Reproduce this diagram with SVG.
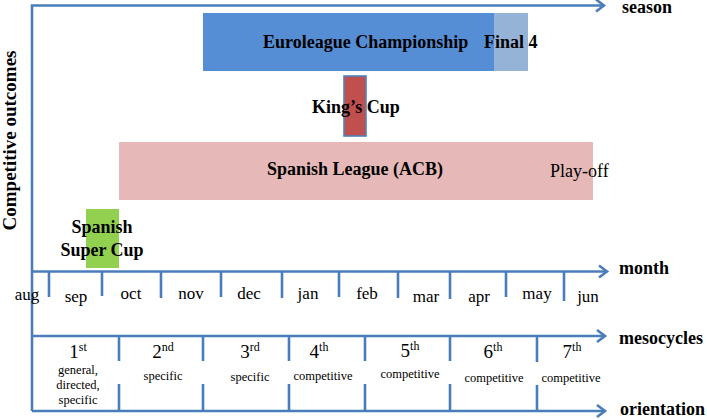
<svg xmlns="http://www.w3.org/2000/svg" width="707" height="420" viewBox="0 0 707 420">
<style>
.ax{stroke:#4A7EBB;stroke-width:2.6;fill:none}
.tk{stroke:#4A7EBB;stroke-width:2.6;fill:none}
.b{font-family:'Liberation Serif','Times New Roman',Times,'DejaVu Serif',serif;font-weight:bold;fill:#000}
.r{font-family:'Liberation Serif','Times New Roman',Times,'DejaVu Serif',serif;fill:#000}
.m{font-size:17px;text-anchor:middle}
.o{font-size:19px;text-anchor:middle}
.s{font-size:12.5px;text-anchor:middle}
.sup{font-size:12px}
.al{font-size:18px}
</style>
<defs>
<marker id="ah" markerUnits="userSpaceOnUse" markerWidth="14" markerHeight="16" refX="11" refY="8" orient="auto">
<path d="M3,2 L11,8 L3,14" fill="none" stroke="#4A7EBB" stroke-width="2.6"/>
</marker>
</defs>
<rect width="707" height="420" fill="#fff"/>

<g id="competitions">
<g id="euroleague">
<rect x="203" y="13" width="291" height="58" fill="#558ED5"/>
<rect x="494" y="13" width="34" height="58" fill="#95B3D7"/>
<text class="b" x="263" y="48" font-size="18">Euroleague Championship</text>
<text class="b" x="484" y="48" font-size="18">Final 4</text>
</g>
<g id="kings-cup">
<rect x="344" y="76" width="22" height="60" fill="#C0504D" stroke="#4F81BD" stroke-width="1.6"/>
<text class="b" x="312" y="113" font-size="18">King’s Cup</text>
</g>
<g id="spanish-league">
<rect x="119" y="142" width="474" height="58" fill="#E6B9B8"/>
<text class="b" x="267" y="175" font-size="18">Spanish League (ACB)</text>
<text class="r" x="550" y="177" font-size="18">Play-off</text>
</g>
<g id="super-cup">
<rect x="86" y="209" width="33" height="59" fill="#92D050"/>
<text class="b" x="102" y="233" font-size="18" text-anchor="middle">Spanish</text>
<text class="b" x="102" y="256" font-size="18" text-anchor="middle">Super Cup</text>
</g>
</g>

<g id="connectors">
<path class="ax" d="M32,411 L32,5.5 L604,5.5" marker-end="url(#ah)"/>
<path class="ax" d="M32,271.5 L607,271.5" marker-end="url(#ah)"/>
<path class="ax" d="M32,336 L605,336" marker-end="url(#ah)"/>
<path class="ax" d="M32,411 L605,411" marker-end="url(#ah)"/>
<path class="tk" d="M49,271.5V297 M102,271.5V296 M161,271.5V298 M221,271.5V297 M282,271.5V298 M339,271.5V297 M398,271.5V298 M450,271.5V299 M506,271.5V297 M564,271.5V301"/>
<path class="tk" d="M119,336V361 M119,384V411 M203,336V361 M203,384V411 M289,336V361 M289,384V411 M365,336V361 M365,384V411 M450,336V361 M450,384V411 M537,336V362 M537,385V411"/>
</g>

<g id="axis-labels">
<text class="b" x="16" y="140.5" font-size="19" text-anchor="middle" transform="rotate(-90 16 140.5)">Competitive outcomes</text>
<text class="b al" x="622" y="13">season</text>
<text class="b al" x="619" y="274">month</text>
<text class="b al" x="619" y="344">mesocycles</text>
<text class="b al" x="620" y="415">orientation</text>
</g>

<g id="months">
<text class="r m" x="27" y="300">aug</text>
<text class="r m" x="76" y="302">sep</text>
<text class="r m" x="131" y="299">oct</text>
<text class="r m" x="191" y="299">nov</text>
<text class="r m" x="249" y="299">dec</text>
<text class="r m" x="308" y="299">jan</text>
<text class="r m" x="367" y="299">feb</text>
<text class="r m" x="426" y="302">mar</text>
<text class="r m" x="479" y="302">apr</text>
<text class="r m" x="537" y="299">may</text>
<text class="r m" x="588" y="302">jun</text>
</g>

<g id="mesocycles">
<text class="r o" x="78" y="358">1<tspan class="sup" dy="-7">st</tspan></text>
<text class="r s" x="78" y="374">general,</text>
<text class="r s" x="78" y="389">directed,</text>
<text class="r s" x="78" y="404">specific</text>
<text class="r o" x="163" y="358">2<tspan class="sup" dy="-7">nd</tspan></text>
<text class="r s" x="163" y="380">specific</text>
<text class="r o" x="250" y="358">3<tspan class="sup" dy="-7">rd</tspan></text>
<text class="r s" x="250" y="381">specific</text>
<text class="r o" x="319" y="358">4<tspan class="sup" dy="-7">th</tspan></text>
<text class="r s" x="323" y="380">competitive</text>
<text class="r o" x="410" y="357">5<tspan class="sup" dy="-7">th</tspan></text>
<text class="r s" x="410" y="378">competitive</text>
<text class="r o" x="493" y="358">6<tspan class="sup" dy="-7">th</tspan></text>
<text class="r s" x="494" y="382">competitive</text>
<text class="r o" x="572" y="358">7<tspan class="sup" dy="-7">th</tspan></text>
<text class="r s" x="571" y="382">competitive</text>
</g>
</svg>
